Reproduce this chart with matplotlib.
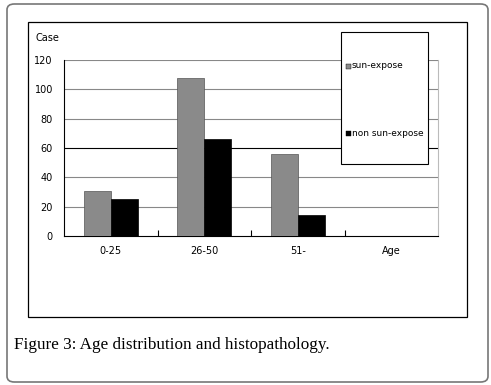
import numpy as np
import matplotlib
matplotlib.use("Agg")
import matplotlib.pyplot as plt
from matplotlib.patches import FancyBboxPatch, Rectangle

categories = ["0-25", "26-50", "51-", "Age"]
sun_expose = [31, 108, 56]
non_sun_expose = [25, 66, 14]
series_names = ["sun-expose", "non sun-expose"]
series_colors = ["#8a8a8a", "#000000"]
yticks = [0, 20, 40, 60, 80, 100, 120]

W, H = 491, 385
fig = plt.figure(figsize=(W / 100, H / 100), dpi=100)


def fx(px):
    return px / W


def fy(py):
    return 1 - py / H


# outer rounded card
fig.patches.append(FancyBboxPatch((fx(7), fy(382)), fx(481), fy(4) - fy(382),
                                  boxstyle="round,pad=0,rounding_size=0.015",
                                  transform=fig.transFigure, fill=False,
                                  edgecolor="#777777", linewidth=1.2))
# chart frame
fig.patches.append(Rectangle((fx(28), fy(317)), fx(467) - fx(28), fy(22) - fy(317),
                             transform=fig.transFigure, fill=False,
                             edgecolor="black", linewidth=0.9))

ax = fig.add_axes([fx(64), fy(236), fx(438) - fx(64), fy(60) - fy(236)])
n = len(sun_expose)
x = np.arange(n)
w = 0.29
ax.bar(x - w / 2, sun_expose, w, color=series_colors[0], edgecolor="#555555",
       linewidth=0.5, zorder=3)
ax.bar(x + w / 2, non_sun_expose, w, color=series_colors[1], edgecolor="black",
       linewidth=0.5, zorder=3)

ax.set_xlim(-0.5, len(categories) - 0.5)
ax.set_ylim(0, 120)
ax.set_yticks(yticks)
ax.set_yticklabels([str(v) for v in yticks], fontsize=7)
for v in yticks[1:]:
    ax.axhline(v, color="black" if v == 60 else "#888888", linewidth=0.8, zorder=1)

ax.set_xticks(np.arange(len(categories) - 1) + 0.5)
ax.set_xticklabels([])
ax.tick_params(axis="x", direction="in", length=4, width=0.8)
ax.tick_params(axis="y", length=0, pad=8)
for i, c in enumerate(categories):
    ax.text(i, -7, c, ha="center", va="top", fontsize=7,
            transform=ax.transData)

ax.spines["top"].set_visible(False)
ax.spines["right"].set_color("#bbbbbb")
ax.spines["left"].set_linewidth(0.8)
ax.spines["bottom"].set_linewidth(0.8)
ax.patch.set_visible(False)

fig.text(fx(35), fy(38), "Case", fontsize=7, va="center", ha="left")

# legend box
fig.patches.append(Rectangle((fx(341), fy(164)), fx(428) - fx(341), fy(32) - fy(164),
                             transform=fig.transFigure, facecolor="white",
                             edgecolor="black", linewidth=0.8, zorder=5))
for name, col, py in zip(series_names, series_colors, [66, 133]):
    fig.patches.append(Rectangle((fx(346), fy(py + 3)), fx(5), fy(py - 2) - fy(py + 3),
                                 transform=fig.transFigure, facecolor=col,
                                 edgecolor="black", linewidth=0.3, zorder=6))
    fig.text(fx(352), fy(py), name, fontsize=6.5, va="center", ha="left", zorder=6)

fig.text(fx(14), fy(345), "Figure 3: Age distribution and histopathology.",
         fontsize=12.3, family="Liberation Serif", va="center", ha="left")

fig.savefig("out.png", dpi=100)
